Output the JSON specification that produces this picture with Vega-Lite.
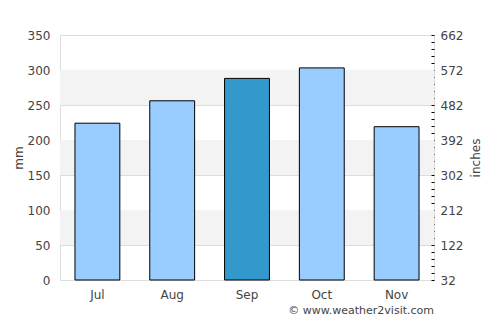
{
  "$schema": "https://vega.github.io/schema/vega-lite/v6.json",
  "width": 374,
  "height": 245,
  "autosize": "none",
  "padding": {"left": 60, "top": 35, "right": 66, "bottom": 45},
  "config": {
    "font": "DejaVu Sans",
    "view": {"stroke": "#dddddd"},
    "axis": {"labelFont": "DejaVu Sans", "titleFont": "DejaVu Sans", "labelColor": "#444444", "titleColor": "#444444", "labelFontSize": 12, "titleFontSize": 12, "titleFontWeight": "normal"}
  },
  "title": {"text": "© www.weather2visit.com", "orient": "bottom", "anchor": "end", "frame": "group", "fontSize": 11, "fontWeight": "normal", "color": "#444444", "offset": 5, "font": "DejaVu Sans"},
  "datasets": {
    "bands": [{"a": 50, "b": 100}, {"a": 150, "b": 200}, {"a": 250, "b": 300}],
    "rain": [
      {"month": "Jul", "mm": 224, "hi": false},
      {"month": "Aug", "mm": 256, "hi": false},
      {"month": "Sep", "mm": 288, "hi": true},
      {"month": "Oct", "mm": 303, "hi": false},
      {"month": "Nov", "mm": 219, "hi": false}
    ]
  },
  "layer": [
    {
      "data": {"name": "bands"},
      "mark": {"type": "rect", "color": "#f3f3f3"},
      "encoding": {
        "y": {"field": "a", "type": "quantitative", "scale": {"domain": [0, 350], "nice": false},
          "axis": {"orient": "left", "title": "mm", "values": [0, 50, 100, 150, 200, 250, 300, 350], "grid": true, "gridColor": "#dddddd", "ticks": false, "domainColor": "#dddddd", "labelPadding": 10, "titlePadding": 2}},
        "y2": {"field": "b"}
      }
    },
    {
      "data": {"name": "rain"},
      "mark": {"type": "bar", "stroke": "#000000", "strokeWidth": 1},
      "encoding": {
        "x": {"field": "month", "type": "nominal", "sort": null, "scale": {"paddingInner": 0.4, "paddingOuter": 0.2},
          "axis": {"title": null, "labelAngle": 0, "ticks": false, "domainColor": "#dddddd", "labelPadding": 9}},
        "y": {"field": "mm", "type": "quantitative", "scale": {"domain": [0, 350], "nice": false},
          "axis": {"orient": "right", "title": "inches", "titleAngle": 270, "titleBaseline": "top", "values": [0,10,20,30,40,50,60,70,80,90,100,110,120,130,140,150,160,170,180,190,200,210,220,230,240,250,260,270,280,290,300,310,320,330,340,350],
            "labelExpr": "datum.value % 50 == 0 ? format(datum.value * 1.8 + 32, 'd') : ''",
            "grid": false, "offset": -3, "domain": false, "tickSize": 3, "tickColor": "#000000", "labelPadding": 6, "titlePadding": 8}},
        "color": {"field": "hi", "type": "nominal", "scale": {"domain": [false, true], "range": ["#99ccff", "#3399cc"]}, "legend": null}
      }
    }
  ],
  "resolve": {"scale": {"y": "independent"}}
}
